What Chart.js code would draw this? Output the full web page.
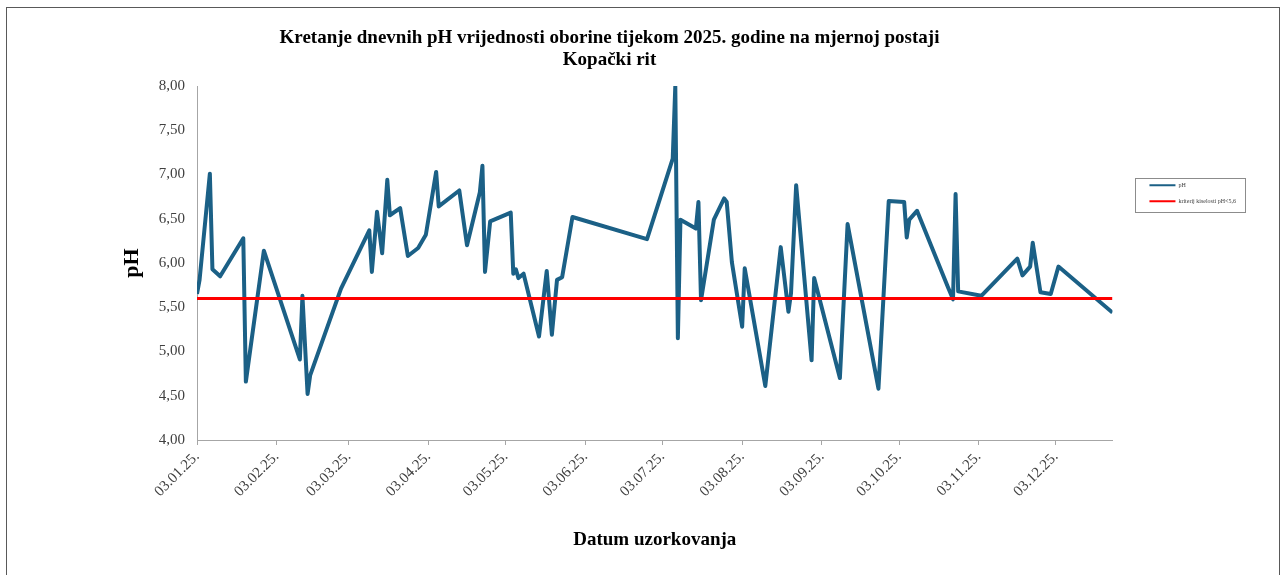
<!DOCTYPE html>
<html>
<head>
<meta charset="utf-8">
<script src="https://cdn.jsdelivr.net/npm/chart.js@4.4.1/dist/chart.umd.min.js"></script>
<style>
  body { margin: 0; background: #fff; overflow: hidden; }
  #box { position: absolute; left: 6px; top: 7px; width: 1272px; height: 580px; border: 1px solid #595959; }
</style>
</head>
<body>
<div id="box"><canvas id="ph"></canvas></div>
<script>
// datumi uzorkovanja (2025.) i izmjerene pH vrijednosti
let dates = ['03.01.', '04.01.', '08.01.', '09.01.', '12.01.', '21.01.', '22.01.', '29.01.',
  '12.02.', '13.02.', '15.02.', '16.02.', '28.02.',
  '11.03.', '12.03.', '14.03.', '16.03.', '18.03.', '19.03.', '23.03.', '26.03.', '30.03.',
  '02.04.', '06.04.', '07.04.', '15.04.', '18.04.', '23.04.', '24.04.', '25.04.', '27.04.',
  '05.05.', '06.05.', '07.05.', '08.05.', '10.05.', '16.05.', '19.05.', '21.05.', '23.05.', '25.05.', '29.05.',
  '27.06.',
  '07.07.', '08.07.', '09.07.', '10.07.', '16.07.', '17.07.', '18.07.', '23.07.', '27.07.', '28.07.', '30.07.',
  '03.08.', '04.08.', '12.08.', '18.08.', '21.08.', '22.08.', '24.08.', '30.08.', '31.08.',
  '10.09.', '13.09.', '25.09.', '29.09.',
  '05.10.', '06.10.', '07.10.', '10.10.', '22.10.', '24.10.', '25.10.', '26.10.',
  '04.11.', '18.11.', '20.11.', '23.11.', '24.11.', '27.11.',
  '01.12.', '04.12.', '25.12.'];

let phValues = [5.65, 5.81, 7.01, 5.93, 5.85, 6.28, 4.66, 6.14,
  4.91, 5.63, 4.52, 4.73, 5.71,
  6.37, 5.90, 6.58, 6.11, 6.94, 6.54, 6.62, 6.08, 6.17,
  6.32, 7.03, 6.64, 6.82, 6.20, 6.80, 7.10, 5.90, 6.47,
  6.57, 5.88, 5.93, 5.83, 5.88, 5.17, 5.91, 5.19, 5.81, 5.84, 6.52,
  6.27,
  7.18, 8.00, 5.15, 6.49, 6.39, 6.69, 5.58, 6.49, 6.73, 6.69, 6.01,
  5.28, 5.94, 4.61, 6.18, 5.45, 5.66, 6.88, 4.90, 5.83,
  4.70, 6.44, 4.58, 6.70,
  6.69, 6.29, 6.49, 6.59, 5.73, 5.59, 6.78, 5.68,
  5.63, 6.05, 5.86, 5.96, 6.23, 5.67,
  5.65, 5.96, 5.44];

let kriterij = 5.6;

let tickLabels = ['03.01.25.', '03.02.25.', '03.03.25.', '03.04.25.', '03.05.25.', '03.06.25.',
  '03.07.25.', '03.08.25.', '03.09.25.', '03.10.25.', '03.11.25.', '03.12.25.'];

// dan u godini (0 = 1.1.2025.)
function dayOfYear(s) {
  let p = s.split('.');
  return (Date.UTC(2025, +p[1] - 1, +p[0]) - Date.UTC(2025, 0, 1)) / 86400000;
}

let days = dates.map(dayOfYear);
let tickDays = tickLabels.map(dayOfYear);
let first = days[0],
  last = days[days.length - 1];

let phPoints = [];
for (let i = 0; i < days.length; i++) {
  phPoints.push({ x: days[i], y: phValues[i] });
}

let serif = 'Liberation Serif';

// okvir oko legende
const legendBorder = {
  id: 'legendBorder',
  afterDraw(chart) {
    const boxes = chart.legend.legendHitBoxes;
    if (!boxes || !boxes.length) return;
    const ctx = chart.ctx;
    const l = Math.round(Math.min(...boxes.map(b => b.left)) - 14) + 0.5;
    const t = Math.round(boxes[0].top - 4) + 0.5;
    const r = Math.round(Math.max(...boxes.map(b => b.left + b.width)) + 9) + 0.5;
    const lb = boxes[boxes.length - 1];
    const b = Math.round(lb.top + lb.height + 8) + 0.5;
    ctx.save();
    ctx.strokeStyle = '#8c8c8c';
    ctx.lineWidth = 1;
    ctx.strokeRect(l, t, r - l, b - t);
    ctx.restore();
  }
};

let config = {
  type: 'line',
  data: {
    datasets: [
      {
        label: 'pH',
        data: phPoints,
        borderColor: '#1b6086',
        backgroundColor: '#1b6086',
        borderWidth: 4,
        borderJoinStyle: 'round',
        pointRadius: 0,
        tension: 0,
        order: 2
      },
      {
        label: 'kriterij kiselosti pH<5,6',
        data: [{ x: first, y: kriterij }, { x: last, y: kriterij }],
        borderColor: '#ff0000',
        backgroundColor: '#ff0000',
        borderWidth: 3,
        pointRadius: 0,
        order: 1
      }
    ]
  },
  options: {
    responsive: true,
    maintainAspectRatio: false,
    animation: false,
    // lijevo negativno da naslov bude centriran kao u izvorniku
    layout: { padding: { left: -34, right: 33, top: 0, bottom: 20 } },
    plugins: {
      tooltip: { enabled: false },
      title: {
        display: true,
        text: ['Kretanje dnevnih pH vrijednosti oborine tijekom 2025. godine na mjernoj postaji', 'Kopački rit'],
        color: '#000',
        font: { family: serif, size: 19, weight: 'bold', lineHeight: 1.16 },
        padding: { top: 19, bottom: 15 }
      },
      legend: {
        position: 'right',
        align: 'start',
        fullSize: false,
        title: { display: true, text: '', font: { size: 1 }, padding: { top: 85, bottom: 0 } },
        labels: {
          usePointStyle: true,
          pointStyle: 'line',
          pointStyleWidth: 26,
          padding: 10,
          color: '#404040',
          font: { family: serif, size: 6 },
          sort: (a, b) => a.datasetIndex - b.datasetIndex,
          generateLabels: chart =>
            Chart.defaults.plugins.legend.labels.generateLabels(chart).map(item => Object.assign(item, { lineWidth: 2 }))
        }
      }
    },
    scales: {
      x: {
        type: 'linear',
        min: first,
        max: last,
        afterBuildTicks: scale => {
          scale.ticks = tickDays.map(v => ({ value: v }));
        },
        afterFit: scale => {
          scale.height = 128;
        },
        ticks: {
          autoSkip: false,
          maxRotation: 45,
          minRotation: 45,
          padding: 3,
          color: '#404040',
          font: { family: serif, size: 15 },
          callback: value => tickLabels[tickDays.indexOf(value)]
        },
        grid: { display: true, drawOnChartArea: false, drawTicks: true, tickLength: 5, color: '#a6a6a6' },
        border: { display: true, color: '#a6a6a6' },
        title: {
          display: true,
          text: 'Datum uzorkovanja',
          color: '#000',
          font: { family: serif, size: 19, weight: 'bold' },
          padding: { top: 0, bottom: 17 }
        }
      },
      y: {
        min: 4,
        max: 8,
        afterFit: scale => {
          scale.width = 224;
        },
        ticks: {
          stepSize: 0.5,
          padding: 12,
          color: '#404040',
          font: { family: serif, size: 15 },
          callback: value => value.toFixed(2).replace('.', ',')
        },
        grid: { display: false, drawTicks: false },
        border: { display: true, color: '#a6a6a6' },
        title: {
          display: true,
          text: 'pH',
          color: '#000',
          font: { family: serif, size: 22, weight: 'bold' },
          padding: { top: 146, bottom: 0 }
        }
      },
      // prazan prostor između grafa i legende
      spacer: {
        type: 'linear',
        position: 'right',
        display: true,
        afterFit: scale => {
          scale.width = 27;
        },
        ticks: { display: false },
        grid: { display: false, drawTicks: false },
        border: { display: false }
      }
    }
  },
  plugins: [legendBorder]
};

window.onload = function() {
  var ctx = document.getElementById('ph').getContext('2d');
  window.chart = new Chart(ctx, config);
};
</script>
</body>
</html>
